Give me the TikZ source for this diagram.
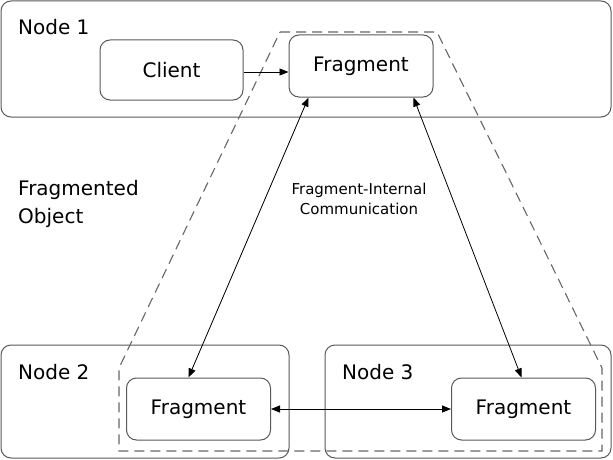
\documentclass[tikz,border=0pt]{standalone}
\usepackage{fontspec}
\setmainfont{DejaVu Sans}
\usetikzlibrary{arrows.meta}
\begin{document}
\begin{tikzpicture}[x=1pt,y=-1pt,
  hostbox/.style={draw=black!65, line width=1pt, rounded corners=10pt},
  fragbox/.style={draw=black!65, line width=1pt, rounded corners=10pt, minimum width=144pt, minimum height=62pt, font=\fontsize{20}{24}\selectfont, inner sep=0pt, fill=white},
  lbl/.style={font=\fontsize{20}{24}\selectfont, inner sep=0pt},
  conn/.style={line width=0.8pt, draw=black},
  tip/.style={-{Triangle[length=9pt,width=7pt]}},
  tips/.style={{Triangle[length=9pt,width=7pt]}-{Triangle[length=9pt,width=7pt]}}
]
\useasboundingbox (0,0) rectangle (613,460);
% hosts
\draw[hostbox] (1,1) rectangle (611,117);
\draw[hostbox] (1,345) rectangle (289,458);
\draw[hostbox] (325,345) rectangle (611,458);
% dashed object outline
\draw[draw=black!60, line width=1.1pt, dash pattern=on 10pt off 6pt]
  (280,32) -- (437,32) -- (602,368) -- (602,451) -- (119,451) -- (119,368) -- cycle;
% labels
\node[lbl, anchor=west] (n1) at (18,27) {Node 1};
\node[lbl, anchor=west] (n2) at (18,372) {Node 2};
\node[lbl, anchor=west] (n3) at (342,372) {Node 3};
\node[lbl, anchor=north west, align=left] (fo) at (18,180) {Fragmented\\[4pt]Object};
\node[font=\fontsize{15}{20}\selectfont, align=center, inner sep=0pt] (fic) at (359,199) {Fragment-Internal\\Communication};
% boxes
\node[fragbox, minimum width=143pt, minimum height=60pt] (cl) at (171.5,70) {Client};
\node[fragbox] (f1) at (361,66) {Fragment};
\node[fragbox] (f2) at (198.5,409) {Fragment};
\node[fragbox] (f3) at (523.5,409) {Fragment};
% connectors
\draw[conn, tip] (cl.east |- 0,72) -- (f1.west |- 0,72);
\draw[conn, tips] ([xshift=20pt]f1.south west) -- ([xshift=-10pt]f2.north);
\draw[conn, tips] ([xshift=-20pt]f1.south east) -- ([xshift=-2pt]f3.north);
\draw[conn, tips] (f2.east) -- (f3.west);
\end{tikzpicture}
\end{document}
